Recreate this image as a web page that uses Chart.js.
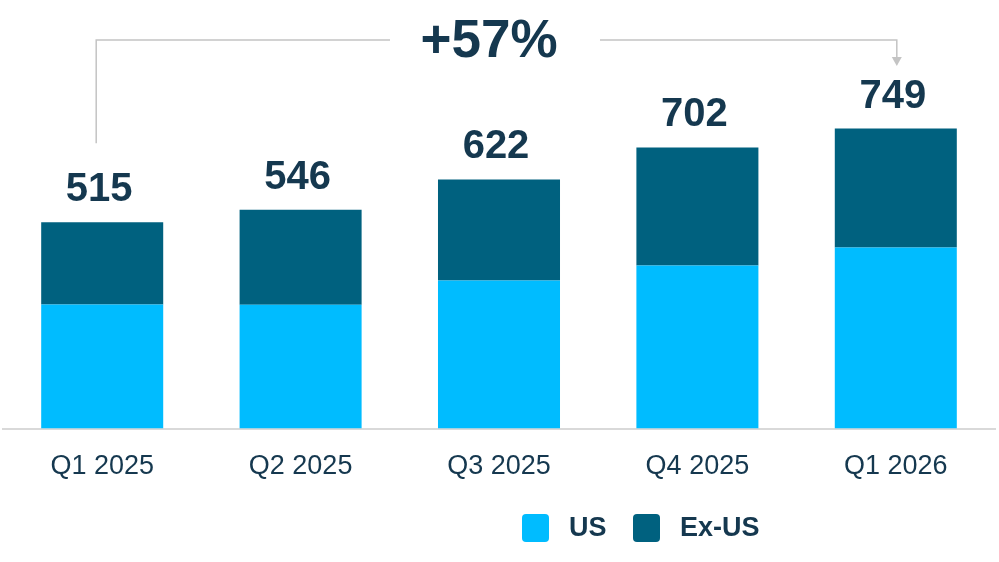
<!DOCTYPE html>
<html lang="en">
<head>
    <meta charset="UTF-8">
    <title>US / Ex-US by quarter</title>
    <script src="https://cdn.jsdelivr.net/npm/chart.js"></script>
    <style>
        html, body {
            margin: 0;
            padding: 0;
            background: #ffffff;
        }
        #wrap {
            width: 999px;
            height: 562px;
        }
    </style>
</head>
<body>
    <div id="wrap"><canvas id="chart" width="999" height="562"></canvas></div>

    <script>
        const quarters = ['Q1 2025', 'Q2 2025', 'Q3 2025', 'Q4 2025', 'Q1 2026'];
        const usValues = [310, 309, 370, 407, 452];
        const exUsValues = [205, 237, 252, 295, 297];
        const growthLabel = '+57%';

        const US_COLOR = '#00bcff';
        const EXUS_COLOR = '#00617f';
        const TEXT_COLOR = '#15384f';
        const FONT = '"Liberation Sans", Arial, sans-serif';

        const totals = quarters.map((_, i) => usValues[i] + exUsValues[i]);

        // totals above bars, growth bracket and legend
        const overlay = {
            id: 'overlay',
            afterDraw(chart) {
                const ctx = chart.ctx;
                const top = chart.getDatasetMeta(1).data;
                const y = chart.scales.y;

                ctx.save();
                ctx.fillStyle = TEXT_COLOR;
                ctx.font = 'bold 40px ' + FONT;
                ctx.textAlign = 'center';
                ctx.textBaseline = 'middle';
                totals.forEach((t, i) => {
                    ctx.fillText(String(t), top[i].x - 3, y.getPixelForValue(t) - 32);
                });

                // bracket from first to last quarter
                const x0 = top[0].x - 6;
                const x1 = top[top.length - 1].x + 1;
                const yLine = 40;
                ctx.strokeStyle = '#c4c4c4';
                ctx.lineWidth = 1.5;
                ctx.beginPath();
                ctx.moveTo(x0, y.getPixelForValue(totals[0]) - 79);
                ctx.lineTo(x0, yLine);
                ctx.lineTo(390, yLine);
                ctx.moveTo(600, yLine);
                ctx.lineTo(x1, yLine);
                ctx.lineTo(x1, 58);
                ctx.stroke();
                ctx.fillStyle = '#c4c4c4';
                ctx.beginPath();
                ctx.moveTo(x1 - 5, 57);
                ctx.lineTo(x1 + 5, 57);
                ctx.lineTo(x1, 66);
                ctx.closePath();
                ctx.fill();

                ctx.fillStyle = TEXT_COLOR;
                ctx.font = 'bold 53px ' + FONT;
                ctx.fillText(growthLabel, 489, 42);

                // legend
                const items = chart.data.datasets;
                const boxes = [522, 633];
                ctx.font = 'bold 27px ' + FONT;
                ctx.textAlign = 'left';
                items.forEach((ds, i) => {
                    ctx.fillStyle = ds.backgroundColor;
                    ctx.beginPath();
                    ctx.roundRect(boxes[i], 514, 27, 28, 4);
                    ctx.fill();
                    ctx.fillStyle = TEXT_COLOR;
                    ctx.fillText(ds.label, boxes[i] + 47, 529);
                });
                ctx.restore();
            }
        };

        new Chart(document.getElementById('chart').getContext('2d'), {
            type: 'bar',
            data: {
                labels: quarters,
                datasets: [
                    { label: 'US', data: usValues, backgroundColor: US_COLOR },
                    { label: 'Ex-US', data: exUsValues, backgroundColor: EXUS_COLOR }
                ]
            },
            options: {
                responsive: false,
                animation: false,
                layout: { padding: { left: 3, right: 4, top: 28, bottom: 57 } },
                datasets: {
                    bar: { categoryPercentage: 1, barPercentage: 0.615 }
                },
                plugins: {
                    legend: { display: false },
                    tooltip: { enabled: false }
                },
                scales: {
                    x: {
                        stacked: true,
                        grid: { display: false, drawTicks: false },
                        border: { color: '#d9d9d9', width: 2 },
                        ticks: {
                            color: TEXT_COLOR,
                            font: { family: FONT, size: 27 },
                            padding: 22
                        }
                    },
                    y: {
                        stacked: true,
                        display: false,
                        min: 0,
                        max: 1000
                    }
                }
            },
            plugins: [overlay]
        });
    </script>
</body>
</html>
